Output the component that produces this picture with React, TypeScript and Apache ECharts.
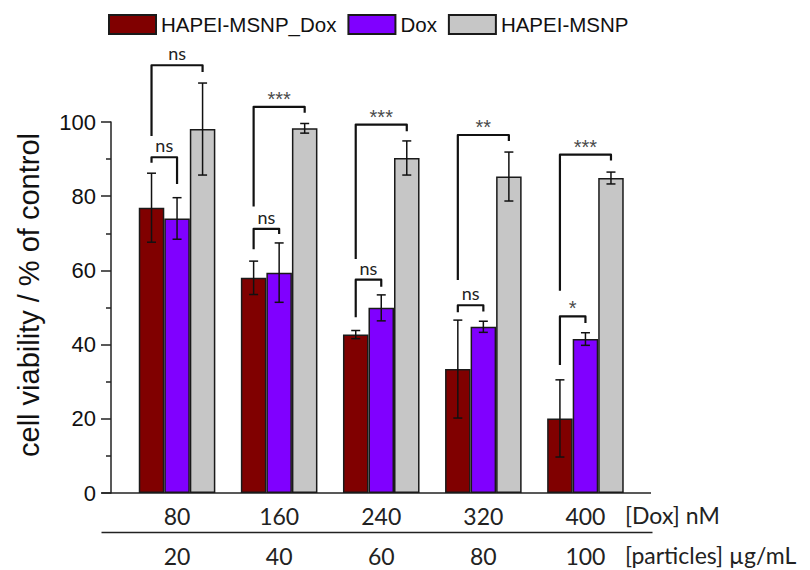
import React, { useEffect, useRef } from "react";
import * as echarts from "echarts";

const doxLabels = ["80", "160", "240", "320", "400"];
const particleLabels = ["20", "40", "60", "80", "100"];
const seriesNames = ["HAPEI-MSNP_Dox", "Dox", "HAPEI-MSNP"];

const hapeiDox = [76.9, 58.0, 42.7, 33.4, 20.1];
const hapeiDoxErr = [9.3, 4.5, 1.1, 13.2, 10.4];
const dox = [74.0, 59.4, 49.9, 44.8, 41.5];
const doxErr = [5.6, 8.0, 3.5, 1.5, 1.7];
const hapei = [98.1, 98.3, 90.3, 85.3, 84.9];
const hapeiErr = [12.4, 1.3, 4.6, 6.6, 1.6];

// [category, left bar, right bar, top, left leg bottom, right leg bottom]
const brackets = [
  [0, 0, 2, 115.3, 96.2, 113.5],
  [0, 0, 1, 90.5, 89.0, 83.3],
  [1, 0, 2, 104.1, 77.2, 102.5],
  [1, 0, 1, 71.2, 65.7, 69.8],
  [2, 0, 2, 99.3, 63.1, 97.5],
  [2, 0, 1, 57.5, 47.4, 55.6],
  [3, 0, 2, 96.5, 57.4, 94.9],
  [3, 0, 1, 50.6, 48.7, 48.9],
  [4, 0, 2, 91.2, 54.5, 89.6],
  [4, 0, 1, 47.6, 34.5, 45.8],
];
const bracketLabels = ["ns", "ns", "***", "ns", "***", "ns", "**", "ns", "***", "*"];

const colors = ["#800000", "#8000FF", "#C6C6C6"];

export default function App() {
  const ref = useRef<HTMLDivElement>(null);
  useEffect(() => {
    if (!ref.current) return;
    const chart = echarts.init(ref.current, undefined, { renderer: "svg" });
    const values = [hapeiDox, dox, hapei];
    const errs = [hapeiDoxErr, doxErr, hapeiErr];
    const errData: number[][] = [];
    values.forEach((arr, s) => {
      arr.forEach((v, i) => {
        errData.push([i, v - errs[s][i], v + errs[s][i], s]);
      });
    });
    const barX = (api: any, cat: number, s: number) => {
      const c = api.coord([cat, 0]);
      const band = api.size([1, 0])[0];
      return c[0] + (s - 1) * band * 0.25;
    };
    const option: any = {
      animation: false,
      grid: { left: 126, top: 122, width: 510.5, height: 371 },
      legend: {
        data: seriesNames,
        left: 108,
        top: 14,
        padding: 0,
        icon: "rect",
        itemWidth: 47,
        itemHeight: 19,
        itemGap: 11,
        itemTextGap: 5,
        textStyle: { fontSize: 20.5, fontFamily: "Liberation Sans", color: "#111" },
      },
      xAxis: [
        {
          type: "category",
          data: doxLabels,
          axisLine: { show: false },
          axisTick: { show: false },
          axisLabel: { fontSize: 23, fontFamily: "Lato", color: "#222", margin: 11 },
        },
        {
          type: "category",
          data: particleLabels,
          position: "bottom",
          offset: 40,
          axisLine: { show: false },
          axisTick: { show: false },
          axisLabel: { fontSize: 23, fontFamily: "Lato", color: "#222", margin: 11 },
        },
      ],
      yAxis: {
        type: "value",
        min: 0,
        max: 100,
        interval: 20,
        offset: 15,
        splitLine: { show: false },
        axisLine: { show: true, lineStyle: { color: "#222", width: 1.5 } },
        axisTick: { show: true, length: 10, lineStyle: { color: "#222", width: 1.5 } },
        minorTick: { show: true, splitNumber: 2, length: 5, lineStyle: { color: "#222", width: 1.5 } },
        axisLabel: { fontSize: 22, fontFamily: "Liberation Sans", color: "#111", margin: 15 },
      },
      graphic: [
        { type: "line", shape: { x1: 101.5, y1: 493, x2: 651, y2: 493 }, style: { stroke: "#222", lineWidth: 1.5 } },
        { type: "line", shape: { x1: 101.5, y1: 532.5, x2: 652.5, y2: 532.5 }, style: { stroke: "#222", lineWidth: 1.5 } },
        {
          type: "text",
          x: 29,
          y: 295,
          rotation: Math.PI / 2,
          style: {
            text: "cell viability / % of control",
            fontSize: 29,
            fontFamily: "Liberation Sans",
            fill: "#111",
            align: "center",
            verticalAlign: "middle",
          },
        },
        {
          type: "text",
          x: 625,
          y: 515,
          style: { text: "[Dox] nM", fontSize: 23, fontFamily: "Lato", fill: "#222", align: "left", verticalAlign: "middle" },
        },
        {
          type: "text",
          x: 625,
          y: 555,
          style: { text: "[particles] µg/mL", fontSize: 23, fontFamily: "Lato", fill: "#222", align: "left", verticalAlign: "middle" },
        },
      ],
      series: [
        ...values.map((arr, s) => ({
          type: "bar",
          name: seriesNames[s],
          data: arr,
          barGap: "0%",
          barCategoryGap: "25%",
          itemStyle: { color: colors[s], borderColor: "#1a1a1a", borderWidth: 1.5 },
        })),
        {
          type: "custom",
          name: "err",
          clip: false,
          z: 3,
          data: errData,
          encode: { x: 0, y: [1, 2] },
          renderItem: (params: any, api: any) => {
            const cat = api.value(0);
            const s = api.value(3);
            const x = barX(api, cat, s);
            const yl = api.coord([cat, api.value(1)])[1];
            const yh = api.coord([cat, api.value(2)])[1];
            const w = 4.5;
            const st = { stroke: "#111", lineWidth: 1.5 };
            return {
              type: "group",
              children: [
                { type: "line", shape: { x1: x, y1: yl, x2: x, y2: yh }, style: st },
                { type: "line", shape: { x1: x - w, y1: yl, x2: x + w, y2: yl }, style: st },
                { type: "line", shape: { x1: x - w, y1: yh, x2: x + w, y2: yh }, style: st },
              ],
            };
          },
        },
        {
          type: "custom",
          name: "sig",
          clip: false,
          z: 4,
          data: brackets,
          encode: { x: 0, y: 3 },
          renderItem: (params: any, api: any) => {
            const cat = api.value(0);
            const xl = barX(api, cat, api.value(1));
            const xr = barX(api, cat, api.value(2));
            const yt = api.coord([cat, api.value(3)])[1];
            const ylb = api.coord([cat, api.value(4)])[1];
            const yrb = api.coord([cat, api.value(5)])[1];
            const label = bracketLabels[params.dataIndex];
            const isStar = label.indexOf("*") >= 0;
            return {
              type: "group",
              children: [
                {
                  type: "polyline",
                  shape: { points: [[xl, ylb], [xl, yt], [xr, yt], [xr, yrb]] },
                  style: { stroke: "#111", lineWidth: 2.2, fill: null, lineJoin: "round" },
                },
                {
                  type: "text",
                  style: {
                    text: label,
                    x: (xl + xr) / 2,
                    y: isStar ? yt - 8 : yt - 12,
                    align: "center",
                    verticalAlign: "middle",
                    fontSize: isStar ? 20 : 18,
                    fontFamily: isStar ? "Liberation Sans" : "Lato",
                    fill: isStar ? "#4a4a4a" : "#222",
                  },
                },
              ],
            };
          },
        },
      ],
    };
    chart.setOption(option);
    return () => chart.dispose();
  }, []);
  return <div ref={ref} style={{ position: "absolute", left: 0, top: 0, width: 810, height: 570 }} />;
}
